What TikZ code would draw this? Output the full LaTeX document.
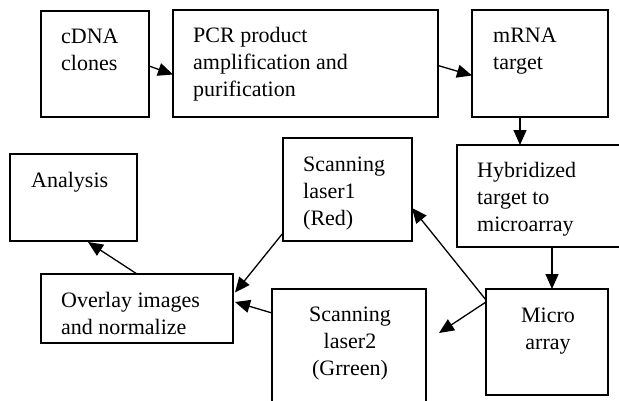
\documentclass[tikz,border=0pt]{standalone}
\usepackage{fontspec}
\setmainfont{Liberation Serif}
\usetikzlibrary{arrows.meta,calc}
\tikzset{
  box/.style={draw, line width=1.3pt, inner sep=0pt, outer sep=0pt, anchor=north west},
  txt/.style={inner sep=0pt, align=left, anchor=north west, font=\fontsize{22}{27}\selectfont},
  ctxt/.style={inner sep=0pt, align=center, anchor=north, font=\fontsize{22}{27}\selectfont},
  arr/.style={line width=1.3pt, -{Triangle[length=15pt,width=13pt]}},
  ln/.style={line width=1.3pt}
}
\begin{document}
\begin{tikzpicture}[x=1pt,y=-1pt]
\clip (0,0) rectangle (619,400);
\fill[white] (0,0) rectangle (619,400);
% boxes
\node[box, minimum width=108pt, minimum height=106pt] (cdna) at (41,11) {};
\node[box, minimum width=265pt, minimum height=107pt] (pcr) at (173,10) {};
\node[box, minimum width=136pt, minimum height=107pt] (mrna) at (472,10) {};
\node[box, minimum width=170pt, minimum height=102pt] (hyb) at (457,145) {};
\node[box, minimum width=122pt, minimum height=106pt] (micro) at (486,289) {};
\node[box, minimum width=129pt, minimum height=103pt] (laser1) at (283,138) {};
\node[box, minimum width=154pt, minimum height=125pt] (laser2) at (272,289) {};
\node[box, minimum width=127pt, minimum height=87pt] (analysis) at (10,154) {};
\node[box, minimum width=192pt, minimum height=69pt] (overlay) at (41,274) {};
% texts
\node[txt] (tcdna) at ([shift={(20pt,-13.1pt)}]cdna.north west) {\strut cDNA\\clones};
\node[txt] (tpcr) at ([shift={(20pt,-13.1pt)}]pcr.north west) {\strut PCR product\\amplification and\\purification};
\node[txt] (tmrna) at ([shift={(21pt,-13.1pt)}]mrna.north west) {\strut mRNA\\target};
\node[txt] (thyb) at ([shift={(20pt,-13.1pt)}]hyb.north west) {\strut Hybridized\\target to\\microarray};
\node[ctxt] (tmicro) at ([shift={(1pt,-14.1pt)}]micro.north) {\strut Micro\\array};
\node[txt] (tl1) at ([shift={(20pt,-14.1pt)}]laser1.north west) {\strut Scanning\\laser1\\(Red)};
\node[ctxt] (tl2) at ([shift={(1pt,-13.1pt)}]laser2.north) {\strut Scanning\\laser2\\(Grreen)};
\node[txt] (tana) at ([shift={(21pt,-14.1pt)}]analysis.north west) {\strut Analysis};
\node[txt] (tover) at ([shift={(20pt,-14.1pt)}]overlay.north west) {\strut Overlay images\\and normalize};
% connectors
\draw[arr] ([yshift=-2pt]cdna.east) -- ([yshift=-11pt]pcr.west);
\draw[arr] ([yshift=-2pt]pcr.east) -- ([yshift=-12pt]mrna.west);
\draw[arr] ([xshift=-20pt]mrna.south) -- ([xshift=-22pt]hyb.north);
\draw[arr] ([xshift=10pt]hyb.south) -- ([xshift=5pt]micro.north);
\draw[arr] ([yshift=-11pt]micro.north west) -- ([yshift=33pt]laser1.south east);
\draw[arr] ([yshift=-13pt]micro.north west) -- ([shift={(13pt,-44pt)}]laser2.north east);
\draw[arr] ([yshift=8pt]laser1.south west) -- ([shift={(2pt,16pt)}]overlay.east);
\draw[arr] ([yshift=-24pt]laser2.north west) -- ([shift={(2pt,6.5pt)}]overlay.east);
\draw[arr] (overlay.north) -- ([shift={(14.5pt,-1pt)}]analysis.south);
\end{tikzpicture}
\end{document}
